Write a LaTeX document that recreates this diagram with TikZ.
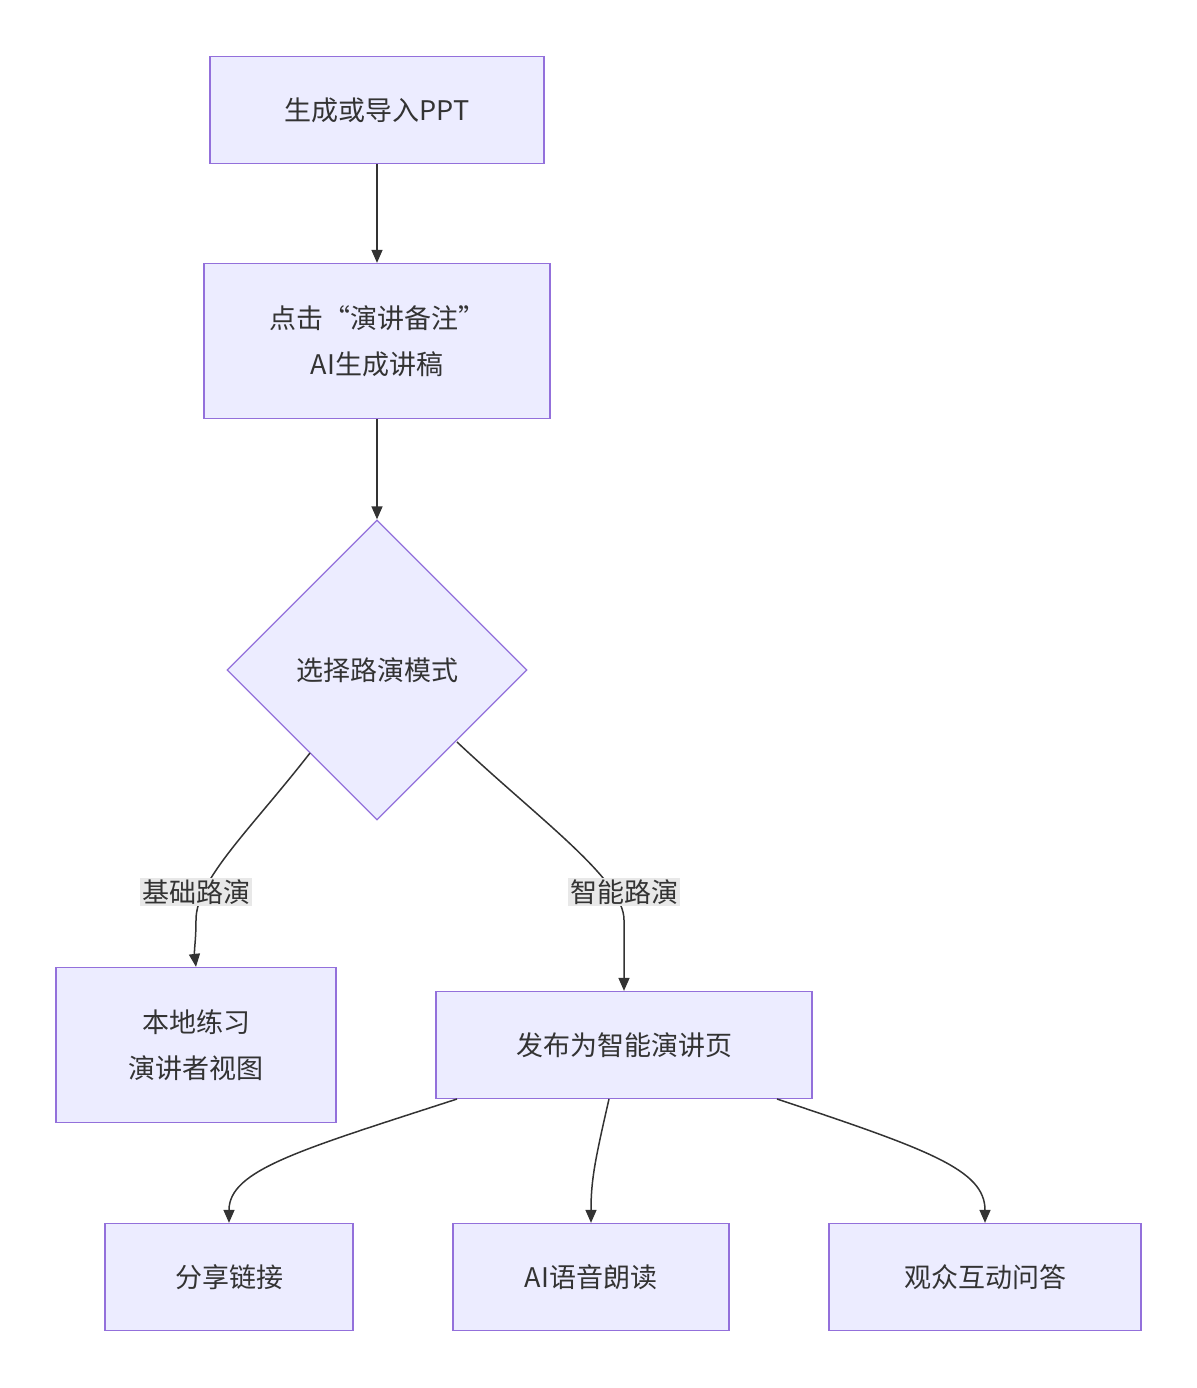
\documentclass[tikz,border=0pt]{standalone}
\usepackage{fontspec}
\setmainfont{Noto Sans CJK SC}
\usetikzlibrary{shapes.geometric,arrows.meta}
\definecolor{nf}{HTML}{ECECFF}
\definecolor{nb}{HTML}{9370DB}
\definecolor{ln}{HTML}{333333}
\definecolor{lb}{HTML}{E8E8E8}
\begin{document}
\begin{tikzpicture}[x=1pt,y=-1pt,
  box/.style={draw=nb,fill=nf,line width=1.3pt,inner sep=0pt,font=\fontsize{27}{46}\selectfont,text=ln,align=center},
  edge/.style={draw=ln,line width=1.5pt,-{Triangle[length=13pt,width=11pt]}},
  lab/.style={fill=lb,inner sep=2pt,font=\fontsize{27}{32}\selectfont,text=ln}]
\useasboundingbox (0,0) rectangle (1196,1388);
\node[box,minimum width=334pt,minimum height=107pt] (A) at (377,110) {生成或导入PPT};
\node[box,minimum width=346pt,minimum height=155pt] (B) at (377,341) {点击“演讲备注”\\AI生成讲稿};
\node[box,diamond,minimum width=300pt,minimum height=300pt] (C) at (377,670) {选择路演模式};
\node[box,minimum width=280pt,minimum height=155pt] (D) at (196,1045) {本地练习\\演讲者视图};
\node[box,minimum width=376pt,minimum height=107pt] (E) at (624,1045) {发布为智能演讲页};
\node[box,minimum width=248pt,minimum height=107pt] (F) at (229,1277) {分享链接};
\node[box,minimum width=276pt,minimum height=107pt] (G) at (591,1277) {AI语音朗读};
\node[box,minimum width=312pt,minimum height=107pt] (H) at (985,1277) {观众互动问答};
\draw[edge] (A) -- (B);
\draw[edge] (B) -- (C);
\coordinate (c1) at (310,753);
\coordinate (c2) at (457,742);
\draw[edge] (c1) .. controls (250,830) and (196,880) .. (196,920) .. controls (196,940) and (194,950) .. (D.north -| 196,0);
\draw[edge] (c2) .. controls (540,820) and (624,880) .. (624,920) .. controls (624,950) and (624,970) .. (E.north);
\node[lab] (L1) at (196,892) {基础路演};
\node[lab] (L2) at (624,892) {智能路演};
\coordinate (e1) at (457,1099);
\coordinate (e2) at (609,1099);
\coordinate (e3) at (777,1099);
\draw[edge] (e1) .. controls (300,1150) and (229,1170) .. (F.north);
\draw[edge] (e2) .. controls (595,1160) and (591,1180) .. (G.north);
\draw[edge] (e3) .. controls (930,1150) and (985,1170) .. (H.north);
\end{tikzpicture}
\end{document}
